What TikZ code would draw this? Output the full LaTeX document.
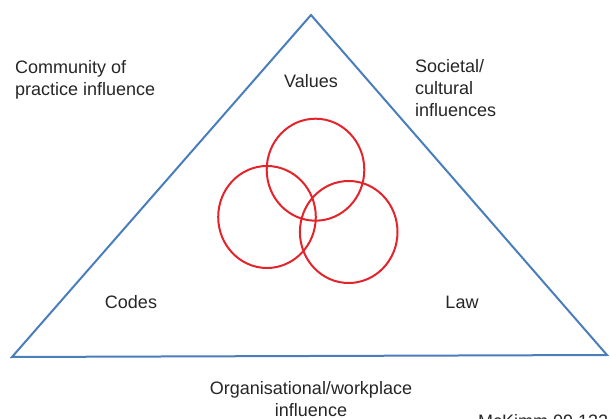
\documentclass[tikz,border=0pt]{standalone}
\usepackage{fontspec}
\setmainfont{Liberation Sans}
\definecolor{triblue}{HTML}{4A7EBB}
\definecolor{ringred}{HTML}{E3242B}
\definecolor{txt}{HTML}{262626}
\begin{document}
\begin{tikzpicture}[x=1pt,y=-1pt,
  lbl/.style={inner sep=0pt,text=txt,font=\fontsize{18}{22}\selectfont},
  ring/.style={draw=ringred,line width=2pt},
  tri/.style={draw=triblue,line width=2pt,line join=miter}]
\useasboundingbox (0,0) rectangle (610,419);
\coordinate (apex) at (311,15);
\coordinate (bl) at (12,357);
\coordinate (br) at (607,355);
\draw[tri] (apex) -- (bl) -- (br) -- cycle;
\draw[ring] (315.5,169.7) ellipse [x radius=48.8, y radius=51];
\draw[ring] (267,217) ellipse [x radius=48.8, y radius=51];
\draw[ring] (348.7,232) ellipse [x radius=48.8, y radius=51];
\node[lbl,anchor=base west,align=left] (cop) at (15,96) {Community of\\practice influence};
\node[lbl,anchor=base west,align=left] (soc) at (415,117) {Societal/\\cultural\\influences};
\node[lbl,anchor=base] (val) at (311,88) {Values};
\node[lbl,anchor=base] (cod) at (131,309) {Codes};
\node[lbl,anchor=base] (law) at (462,309) {Law};
\node[lbl,anchor=base,align=center] (org) at (311,416) {Organisational/workplace\\influence};
\node[lbl,anchor=base west] (ref) at (478,427) {McKimm 09 132};
\end{tikzpicture}
\end{document}
